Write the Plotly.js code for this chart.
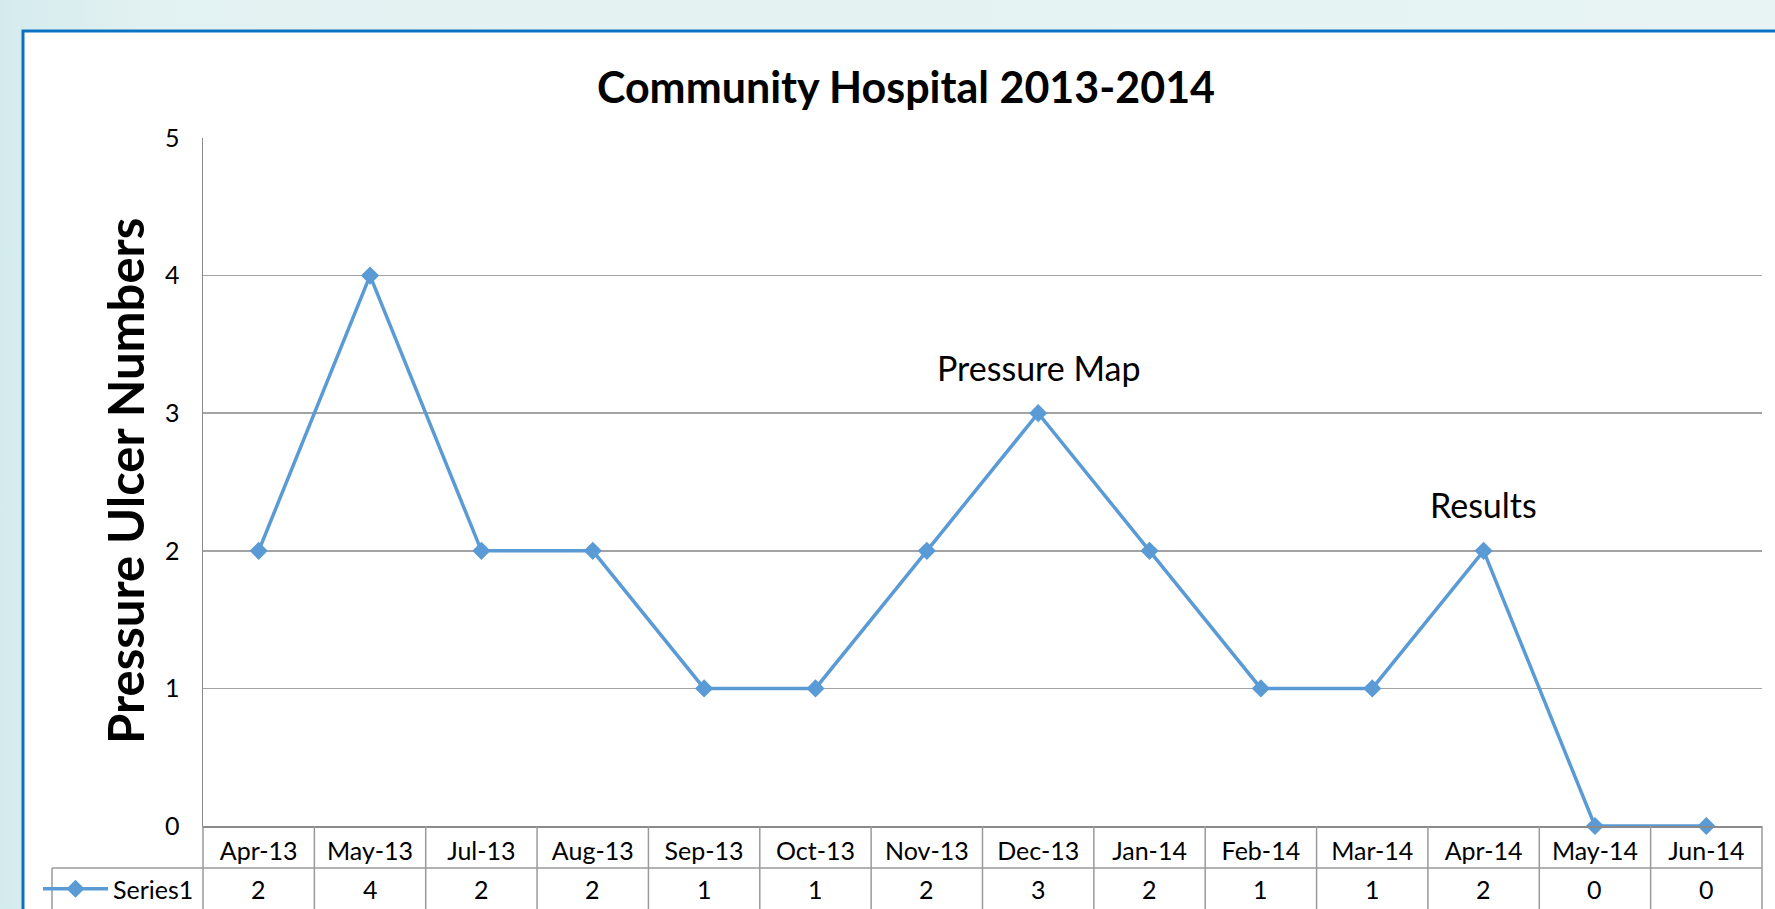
<!DOCTYPE html>
<html><head><meta charset="utf-8">
<script src="https://cdn.plot.ly/plotly-3.0.1.min.js"></script>
<style>
html,body{margin:0;padding:0;background:linear-gradient(90deg,#d4ebed 0%,#e2f1f1 8%,#e8f4f4 100%);overflow:hidden;}
#chart{width:1775px;height:909px;}
</style>
</head><body><div id="chart"></div>
<script>
// ---- data ----
const categories = ['Apr-13','May-13','Jul-13','Aug-13','Sep-13','Oct-13','Nov-13','Dec-13','Jan-14','Feb-14','Mar-14','Apr-14','May-14','Jun-14'];
const values = [2,4,2,2,1,1,2,3,2,1,1,2,0,0];
const seriesName = 'Series1';
const yTickValues = [0,1,2,3,4,5];
const noteLabels = ['Pressure Map','Results'];
const noteCategories = ['Dec-13','Apr-14'];
const chartTitle = 'Community Hospital 2013-2014';
const yTitle = 'Pressure Ulcer Numbers';

// ---- layout geometry ----
const W = 1775, H = 909, L = 203, R = 13, T = 138, B = 83;
const pw = W - L - R, ph = H - T - B;
const px2x = p => (p - L) / pw;
const py2y = p => (H - B - p) / ph;
const FONT = 'Lato, Carlito, Calibri, sans-serif';
const gridCol = '#a3a3a3', tableCol = '#9a9a9a';

const shapes = [];
// white chart panel with blue border
shapes.push({type:'rect', xref:'paper', yref:'paper', x0:px2x(23), x1:px2x(1850), y0:py2y(1000), y1:py2y(31),
  fillcolor:'#ffffff', line:{color:'#0a72c2', width:3}, layer:'below'});
// table vertical lines at category boundaries
for (let i = 1; i < categories.length; i++) {
  shapes.push({type:'line', xref:'x', yref:'paper', x0:i-0.5, x1:i-0.5, y0:0, y1:py2y(930),
    line:{color:tableCol, width:1.5}});
}
shapes.push({type:'line', xref:'paper', yref:'paper', x0:0, x1:0, y0:0, y1:py2y(930), line:{color:tableCol, width:1.5}});
shapes.push({type:'line', xref:'paper', yref:'paper', x0:1, x1:1, y0:0, y1:py2y(930), line:{color:tableCol, width:1.5}});
// row separator and left edge of the series row
shapes.push({type:'line', xref:'paper', yref:'paper', x0:px2x(52), x1:1, y0:py2y(868), y1:py2y(868), line:{color:tableCol, width:1.5}});
shapes.push({type:'line', xref:'paper', yref:'paper', x0:px2x(52), x1:px2x(52), y0:py2y(868), y1:py2y(930), line:{color:tableCol, width:1.5}});

const annotations = [];
// y axis title
annotations.push({xref:'paper', yref:'paper', x:px2x(125), y:py2y(481), text:yTitle, textangle:-90, showarrow:false,
  xanchor:'center', yanchor:'middle', font:{family:FONT, size:49, weight:700, color:'#000'}});
// table value row
categories.forEach((c, i) => {
  annotations.push({xref:'x', yref:'paper', x:c, y:py2y(889), text:String(values[i]), showarrow:false,
    xanchor:'center', yanchor:'middle', font:{family:FONT, size:25, color:'#000'}});
});
// callouts
noteLabels.forEach((t, k) => {
  const idx = categories.indexOf(noteCategories[k]);
  annotations.push({xref:'x', yref:'y', x:noteCategories[k], y:values[idx] + 0.335, text:t, showarrow:false,
    xanchor:'center', yanchor:'middle', font:{family:FONT, size:34, color:'#000'}});
});

const trace = {
  type:'scatter', mode:'lines+markers', name:seriesName,
  x:categories, y:values,
  line:{color:'#5b9bd5', width:3.5},
  marker:{symbol:'diamond', size:14, color:'#5b9bd5'},
  cliponaxis:false
};

const layout = {
  width:W, height:H,
  margin:{l:L, r:R, t:T, b:B, pad:0},
  paper_bgcolor:'rgba(0,0,0,0)', plot_bgcolor:'rgba(0,0,0,0)',
  title:{text:chartTitle, font:{family:FONT, size:43, weight:700, color:'#000'},
    xref:'container', x:906/W, xanchor:'center', yref:'container', y:1-88/H, yanchor:'middle'},
  xaxis:{type:'category', categoryarray:categories, range:[-0.5, categories.length-0.5],
    showgrid:false, showline:true, linecolor:'#8a8a8a', linewidth:1.5, ticks:'',
    tickfont:{family:FONT, size:25, color:'#000'}, ticklabelstandoff:2, zeroline:false, fixedrange:true},
  yaxis:{range:[0,5], tickvals:yTickValues, showgrid:true, gridcolor:gridCol, gridwidth:1.5,
    showline:true, linecolor:'#8a8a8a', linewidth:1.5, ticks:'', zeroline:false,
    tickfont:{family:FONT, size:25, color:'#000'}, ticklabelstandoff:17, fixedrange:true},
  showlegend:true,
  legend:{xref:'container', yref:'container', x:38/W, y:1-889/H, xanchor:'left', yanchor:'middle',
    bgcolor:'rgba(0,0,0,0)', font:{family:FONT, size:25, color:'#000'}, itemwidth:65},
  shapes:shapes, annotations:annotations
};

Plotly.newPlot('chart', [trace], layout, {displayModeBar:false, staticPlot:true});
</script>
</body></html>
